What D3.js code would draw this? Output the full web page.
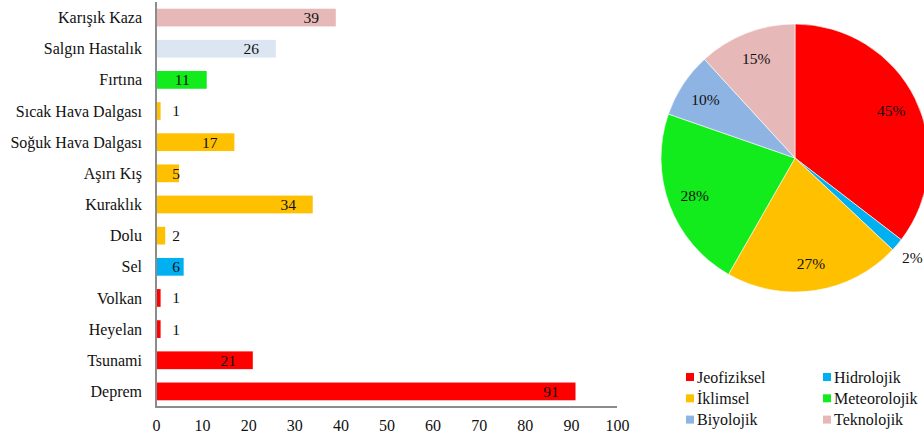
<!DOCTYPE html>
<html>
<head>
<meta charset="utf-8">
<script src="https://cdn.jsdelivr.net/npm/d3@7"></script>
<style>
body{margin:0;background:#fff;}
svg text{font-family:"Liberation Serif","Times New Roman",Times,"DejaVu Serif",serif;fill:#111;}
</style>
</head>
<body>
<script>
// bar chart data (top to bottom)
var categories = ["Karışık Kaza","Salgın Hastalık","Fırtına","Sıcak Hava Dalgası","Soğuk Hava Dalgası","Aşırı Kış","Kuraklık","Dolu","Sel","Volkan","Heyelan","Tsunami","Deprem"];
var values = [39,26,11,1,17,5,34,2,6,1,1,21,91];
var groups = ["Teknolojik","Biyolojik","Meteorolojik","İklimsel","İklimsel","İklimsel","İklimsel","İklimsel","Hidrolojik","Jeofiziksel","Jeofiziksel","Jeofiziksel","Jeofiziksel"];
var xTicks = [0,10,20,30,40,50,60,70,80,90,100];

// pie data
var pieGroups = ["Jeofiziksel","Hidrolojik","İklimsel","Meteorolojik","Biyolojik","Teknolojik"];
var pieValues = [45,2,27,28,10,15];

var colors = {
	"Jeofiziksel":"#ff0000",
	"Hidrolojik":"#00b0f0",
	"İklimsel":"#ffc000",
	"Meteorolojik":"#12eb1c",
	"Biyolojik":"#8eb4e3",
	"Teknolojik":"#e6b9b8"
};
var barColor = {"Biyolojik":"#dce6f2"};
var fontStack = "'Liberation Serif','Times New Roman',Times,'DejaVu Serif',serif";

var svgwidth = 924, svgheight = 438;
var svg = d3.select("body").append("svg")
	.attr("width",svgwidth)
	.attr("height",svgheight)
	.style("font-family",fontStack);

//bar chart*****
var x = d3.scaleLinear().domain([0,100]).range([156,617]);
var y = d3.scaleBand().domain(categories).range([2,407]).paddingInner(0.43).paddingOuter(0.215);

var g0 = svg.append("g");

g0.selectAll("rect.bar")
	.data(values)
	.enter().append("rect")
	.attr("class","bar")
	.attr("x",x(0)+1)
	.attr("y",function(d,i){return y(categories[i]);})
	.attr("width",function(d){return x(d)-x(0)-1;})
	.attr("height",y.bandwidth())
	.attr("fill",function(d,i){return barColor[groups[i]]||colors[groups[i]];});

g0.selectAll("text.val")
	.data(values)
	.enter().append("text")
	.attr("class","val")
	.attr("x",function(d){return Math.max(x(d)-24.5,x(0)+20);})
	.attr("y",function(d,i){return y(categories[i])+y.bandwidth()/2;})
	.attr("dy","0.35em")
	.attr("text-anchor","middle")
	.style("font-size","15.5px")
	.text(function(d){return d;});

g0.selectAll("text.cat")
	.data(categories)
	.enter().append("text")
	.attr("class","cat")
	.attr("x",142)
	.attr("y",function(d){return y(d)+y.bandwidth()/2;})
	.attr("dy","0.35em")
	.attr("text-anchor","end")
	.style("font-size","16px")
	.text(function(d){return d;});

// axes
g0.append("line")
	.attr("x1",x(0)).attr("x2",x(0))
	.attr("y1",2).attr("y2",408)
	.attr("stroke","#8c8c8c").attr("stroke-width",2);
g0.append("line")
	.attr("x1",x(0)-1).attr("x2",x(100))
	.attr("y1",407).attr("y2",407)
	.attr("stroke","#8c8c8c").attr("stroke-width",2);

var xAxis = g0.append("g")
	.attr("transform","translate(0,407)")
	.call(d3.axisBottom(x).tickValues(xTicks).tickSize(0).tickPadding(13));
xAxis.select(".domain").remove();
xAxis.attr("font-family",null);
xAxis.selectAll("text")
	.style("font-size","16px")
	.style("font-family",fontStack)
	.attr("fill","#111");

//pie chart*****
var cx = 795, cy = 158, r = 134;
var g1 = svg.append("g").attr("transform","translate("+cx+","+cy+")");
var pie = d3.pie().sort(null).value(function(d){return d;});
var arcs = pie(pieValues);
var arc = d3.arc().innerRadius(0).outerRadius(r);

g1.selectAll("path")
	.data(arcs)
	.enter().append("path")
	.attr("d",arc)
	.attr("fill",function(d,i){return colors[pieGroups[i]];})
	.attr("stroke","#fff")
	.attr("stroke-width",0.6);

g1.selectAll("text")
	.data(arcs)
	.enter().append("text")
	.attr("transform",function(d){
		var a = (d.startAngle+d.endAngle)/2;
		var rr = (d.endAngle-d.startAngle) < 0.2 ? r*1.15 : r*0.8;
		return "translate("+(Math.sin(a)*rr)+","+(-Math.cos(a)*rr)+")";
	})
	.attr("dy","0.35em")
	.attr("text-anchor","middle")
	.style("font-size","15.5px")
	.text(function(d){return d.value+"%";});

//legend*****
var leg = svg.append("g");
var legItems = leg.selectAll("g")
	.data(pieGroups)
	.enter().append("g")
	.attr("transform",function(d,i){
		var col = i%2, row = Math.floor(i/2);
		return "translate("+(686+col*137)+","+(377+row*21.3)+")";
	});
legItems.append("rect")
	.attr("x",0).attr("y",-4)
	.attr("width",8).attr("height",8)
	.attr("fill",function(d){return colors[d];});
legItems.append("text")
	.attr("x",11)
	.attr("y",0)
	.attr("dy","0.35em")
	.style("font-size","16px")
	.text(function(d){return d;});
</script>
</body>
</html>
